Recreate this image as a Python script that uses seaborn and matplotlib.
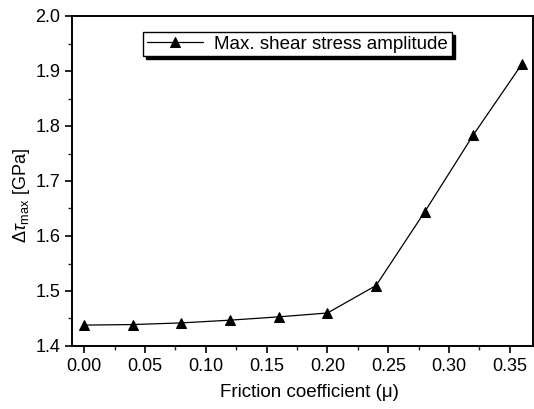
import matplotlib
matplotlib.use("Agg")
import matplotlib.pyplot as plt
import seaborn as sns
import pandas as pd
from matplotlib.ticker import MultipleLocator

friction = [0.00, 0.04, 0.08, 0.12, 0.16, 0.20, 0.24, 0.28, 0.32, 0.36]
shear_amp = [1.438, 1.439, 1.442, 1.447, 1.453, 1.460, 1.510, 1.644, 1.784, 1.913]
series_label = "Max. shear stress amplitude"

sns.set_theme(style="ticks")
plt.rcParams['font.family'] = ['Liberation Sans', 'DejaVu Sans']
plt.rcParams['text.color'] = 'black'
plt.rcParams['axes.labelcolor'] = 'black'
plt.rcParams['mathtext.fontset'] = 'custom'
plt.rcParams['mathtext.rm'] = 'Liberation Sans'
plt.rcParams['mathtext.it'] = 'Liberation Sans:italic'

df = pd.DataFrame({"mu": friction, "tau": shear_amp})

fig = plt.figure(figsize=(5.34, 4.09), dpi=100)
ax = fig.add_axes([72/534, 1-346/409, (533-72)/534, (346-16)/409])

sns.lineplot(data=df, x="mu", y="tau", ax=ax, color="black", linewidth=0.9,
             marker="^", markersize=7, markeredgecolor="black", label=series_label)

ax.set_xlim(-0.01, 0.369)
ax.set_ylim(1.4, 2.0)
ax.xaxis.set_major_locator(MultipleLocator(0.05))
ax.xaxis.set_minor_locator(MultipleLocator(0.025))
ax.yaxis.set_major_locator(MultipleLocator(0.1))
ax.yaxis.set_minor_locator(MultipleLocator(0.05))
ax.xaxis.set_major_formatter(plt.FuncFormatter(lambda v, p: f"{v:.2f}"))
ax.yaxis.set_major_formatter(plt.FuncFormatter(lambda v, p: f"{v:.1f}"))

ax.tick_params(axis="both", which="major", direction="out", length=5, width=1.2,
               labelsize=13, colors="black")
ax.tick_params(axis="both", which="minor", direction="out", length=3, width=1.0)
for s in ax.spines.values():
    s.set_linewidth(1.4)
    s.set_color("black")

ax.set_xlabel("Friction coefficient (\u03bc)", fontsize=13.5, color="black")
ax.xaxis.set_label_coords(0.516, -0.115)
ax.set_ylabel(r"$\Delta\tau_{\rm max}$ [GPa]", fontsize=13, color="black")
ax.yaxis.set_label_coords(-0.087, 0.457)

leg = ax.legend(loc="upper left", bbox_to_anchor=(0.154, 0.952), borderaxespad=0,
                fancybox=False, shadow={"color": "black", "alpha": 1.0},
                edgecolor="black", framealpha=1, fontsize=13.5,
                handlelength=3.0, handletextpad=0.6, borderpad=0.2)
leg.get_frame().set_linewidth(1.0)
for t in leg.get_texts():
    t.set_color("black")

fig.savefig("out.png", dpi=100)
